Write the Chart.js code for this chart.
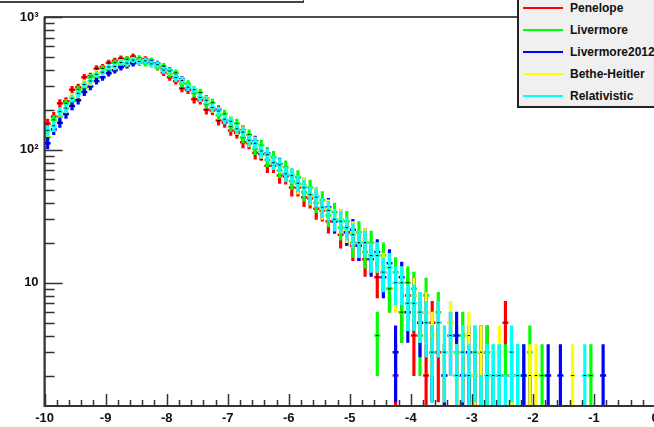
<!DOCTYPE html>
<html>
<head>
<meta charset="utf-8">
<script src="https://cdn.jsdelivr.net/npm/chart.js@4.4.0/dist/chart.umd.min.js"></script>
<style>
  html, body { margin: 0; padding: 0; background: #fff; overflow: hidden; width: 654px; height: 427px; }
  #wrap { position: absolute; left: 0; top: 0; width: 664px; height: 427px; }
  #titlebox { position: absolute; left: -4px; top: -20px; width: 306px; height: 20px; border: 1px solid #444; border-bottom-width: 2px; background: #fff; }
  #legend { position: absolute; left: 517px; top: -2px; width: 150px; height: 107px; background: #f0f0f0;
            border: 1px solid #000; border-left: 2px solid #222; border-bottom: 2px solid #222;
            font: bold 12px "Liberation Sans", Arial, sans-serif; color: #111; }
  .entry { position: absolute; left: 4px; height: 14px; width: 150px; }
  .entry i { position: absolute; left: 0; top: 6px; width: 40px; height: 2px; }
  .entry span { position: absolute; left: 47px; top: 0; white-space: nowrap; line-height: 14px; }
</style>
</head>
<body>
<div id="wrap"><canvas id="hist" width="664" height="427"></canvas></div>
<div id="titlebox"></div>
<div id="legend"></div>
<script>
// bin centres (log10 scale, bin width 0.1)
const binCenters = [
  -9.95, -9.85, -9.75, -9.65, -9.55, -9.45, -9.35, -9.25, -9.15, -9.05,
  -8.95, -8.85, -8.75, -8.65, -8.55, -8.45, -8.35, -8.25, -8.15, -8.05,
  -7.95, -7.85, -7.75, -7.65, -7.55, -7.45, -7.35, -7.25, -7.15, -7.05,
  -6.95, -6.85, -6.75, -6.65, -6.55, -6.45, -6.35, -6.25, -6.15, -6.05,
  -5.95, -5.85, -5.75, -5.65, -5.55, -5.45, -5.35, -5.25, -5.15, -5.05,
  -4.95, -4.85, -4.75, -4.65, -4.55, -4.45, -4.35, -4.25, -4.15, -4.05,
  -3.95, -3.85, -3.75, -3.65, -3.55, -3.45, -3.35, -3.25, -3.15, -3.05,
  -2.95, -2.85, -2.75, -2.65, -2.55, -2.45, -2.35, -2.25, -2.15, -2.05,
  -1.95, -1.85, -1.75, -1.65, -1.55, -1.45, -1.35, -1.25, -1.15, -1.05, -0.95, -0.85
];

const penelope = [
  158, 178, 224, 232, 284, 296, 352, 360, 410, 420,
  452, 468, 488, 482, 505, 478, 482, 440, 418, 382,
  352, 330, 290, 282, 240, 236, 200, 198, 166, 160,
  140, 134, 114, 112, 95, 93, 76, 76, 64, 63,
  52, 52, 44, 43, 36, 35, 29, 29, 23, 24,
  19, 19, 15, 16, 11, 12, 9, 2, 6, 8,
  4, 6, 2, 5, 3, 1, 4, 2, 3, 1,
  2, 0, 3, 1, 0, 5, 2, 0, 1, 0,
  0, 0, 0, 0, 0, 0, 0, 0, 0, 0, 0, 0
];
const livermore = [
  124, 168, 178, 224, 232, 284, 292, 352, 350, 410,
  398, 452, 432, 480, 456, 490, 448, 472, 420, 428,
  372, 380, 316, 314, 268, 270, 220, 226, 182, 186,
  150, 158, 124, 130, 102, 108, 84, 88, 70, 74,
  58, 62, 48, 52, 40, 42, 32, 34, 26, 29,
  20, 24, 17, 20, 4, 16, 9, 12, 6, 10,
  9, 4, 8, 3, 6, 2, 5, 3, 4, 1,
  3, 1, 3, 2, 0, 2, 1, 2, 2, 3,
  0, 2, 0, 0, 0, 0, 0, 0, 0, 2, 0, 0
];
const livermore2012 = [
  112, 142, 160, 186, 214, 236, 272, 300, 330, 352,
  378, 398, 418, 432, 448, 456, 470, 448, 444, 402,
  396, 350, 338, 296, 284, 246, 242, 204, 200, 168,
  166, 140, 140, 116, 116, 94, 94, 80, 78, 66,
  64, 55, 54, 45, 45, 36, 37, 29, 30, 24,
  25, 19, 21, 15, 17, 11, 14, 3, 11, 6,
  8, 5, 6, 3, 5, 2, 4, 4, 2, 3,
  2, 3, 1, 1, 2, 0, 2, 0, 2, 1,
  0, 0, 2, 0, 2, 0, 0, 0, 0, 0, 0, 2
];
const betheHeitler = [
  138, 150, 192, 204, 250, 262, 318, 324, 378, 382,
  420, 420, 458, 446, 478, 462, 470, 440, 436, 398,
  390, 346, 334, 298, 286, 246, 240, 206, 196, 170,
  166, 142, 138, 116, 114, 96, 92, 80, 76, 66,
  64, 54, 54, 45, 45, 36, 36, 30, 30, 25,
  24, 20, 21, 16, 16, 13, 13, 9, 10, 7,
  8, 6, 6, 4, 5, 3, 5, 2, 3, 4,
  2, 3, 1, 2, 3, 1, 2, 0, 0, 2,
  2, 0, 0, 0, 0, 0, 2, 0, 0, 0, 0, 0
];
const relativistic = [
  140, 152, 194, 206, 244, 266, 310, 330, 370, 384,
  420, 424, 454, 450, 474, 462, 468, 444, 438, 398,
  392, 350, 332, 296, 284, 248, 236, 208, 196, 170,
  164, 144, 136, 118, 112, 98, 92, 80, 77, 66,
  64, 56, 52, 46, 44, 37, 35, 30, 29, 26,
  23, 20, 20, 16, 16, 12, 13, 10, 10, 7,
  7, 6, 5, 3, 5, 3, 4, 2, 3, 2,
  3, 1, 2, 2, 2, 1, 3, 2, 0, 0,
  0, 0, 0, 0, 0, 0, 0, 0, 2, 0, 0, 0
];

const seriesNames = ['Penelope', 'Livermore', 'Livermore2012', 'Bethe-Heitler', 'Relativistic'];
const seriesColors = ['#ff0000', '#00ff00', '#0000ff', '#ffff00', '#00ffff'];
const seriesCounts = [penelope, livermore, livermore2012, betheHeitler, relativistic];

const yTickLabels = { 10: '10', 100: '10\u00b2', 1000: '10\u00b3' };

function isInt(v) { return Math.abs(v - Math.round(v)) < 1e-6; }

// build the datasets: error bar (floating bar), bin-width segment, marker
const datasets = [];
seriesCounts.forEach(function(counts, k) {
  const pts = [];
  binCenters.forEach(function(x, i) {
    if (counts[i] > 0) pts.push({ x: x, n: counts[i] });
  });
  const base = (seriesCounts.length - 1 - k) * 3;
  datasets.push({
    type: 'bar',
    label: seriesNames[k],
    data: pts.map(p => ({ x: p.x, y: [Math.max(p.n - Math.sqrt(p.n), 0.1), p.n + Math.sqrt(p.n)] })),
    backgroundColor: seriesColors[k],
    barThickness: 2.5,
    grouped: false,
    order: base + 2
  });
  datasets.push({
    type: 'line',
    showLine: false,
    data: pts.map(p => ({ x: p.x, y: p.n })),
    pointStyle: 'line',
    pointRadius: 3,
    pointBorderWidth: 2.5,
    pointBorderColor: seriesColors[k],
    order: base + 1
  });
  datasets.push({
    type: 'line',
    showLine: false,
    data: pts.map(p => ({ x: p.x, y: p.n })),
    pointStyle: 'line',
    pointRadius: 1.2,
    pointBorderWidth: 1,
    pointBorderColor: '#000',
    order: base
  });
});

// ROOT-like frame with inward ticks
const rootFrame = {
  id: 'rootFrame',
  afterDraw(chart) {
    const ctx = chart.ctx, a = chart.chartArea, x = chart.scales.x, y = chart.scales.y;
    ctx.save();
    ctx.strokeStyle = '#111';
    ctx.lineWidth = 1.5;
    ctx.strokeRect(a.left, a.top, a.right - a.left, a.bottom - a.top);
    ctx.strokeStyle = '#333';
    ctx.lineWidth = 2;
    ctx.beginPath();
    ctx.moveTo(a.left, a.top); ctx.lineTo(a.left, a.bottom); ctx.lineTo(a.right, a.bottom);
    ctx.stroke();
    ctx.lineWidth = 1.5;
    ctx.beginPath();
    x.ticks.forEach(function(t) {
      const px = Math.round(x.getPixelForValue(t.value)) + 0.5;
      const len = isInt(t.value) ? 12 : 6;
      ctx.moveTo(px, a.bottom); ctx.lineTo(px, a.bottom - len);
    });
    y.ticks.forEach(function(t) {
      const v = t.value;
      const dec = Math.pow(10, Math.floor(Math.log10(v) + 1e-9));
      const m = v / dec;
      if (!isInt(m)) return;
      const py = Math.round(y.getPixelForValue(v)) + 0.5;
      const len = Math.round(m) === 1 ? 18 : 10;
      ctx.moveTo(a.left, py); ctx.lineTo(a.left + len, py);
    });
    ctx.stroke();
    ctx.restore();
  }
};

const tickFont = { family: 'Liberation Sans', weight: 'bold', size: 13 };

new Chart(document.getElementById('hist').getContext('2d'), {
  type: 'bar',
  data: { datasets: datasets },
  options: {
    responsive: false,
    animation: false,
    events: [],
    layout: { padding: { left: 0, top: 17, right: 9, bottom: 0 } },
    plugins: { legend: { display: false }, tooltip: { enabled: false } },
    scales: {
      x: {
        type: 'linear', min: -10, max: 0, offset: false,
        grid: { display: false, drawTicks: false },
        border: { display: false },
        ticks: {
          stepSize: 0.2, autoSkip: false, maxRotation: 0, padding: 5,
          color: '#111', font: tickFont,
          callback: v => isInt(v) ? String(Math.round(v)) : ''
        },
        afterFit(s) { s.height = 21; }
      },
      y: {
        type: 'logarithmic', min: 1.18, max: 1000,
        grid: { display: false, drawTicks: false },
        border: { display: false },
        ticks: {
          autoSkip: false, padding: 6, color: '#111', font: tickFont,
          callback: v => yTickLabels[v] || ''
        },
        afterFit(s) { s.width = 44.6; }
      }
    }
  },
  plugins: [rootFrame]
});

// legend (ROOT TLegend look)
const legend = document.getElementById('legend');
const entryTops = [2, 24, 46, 68, 90];
seriesNames.forEach(function(name, k) {
  const e = document.createElement('div');
  e.className = 'entry';
  e.style.top = entryTops[k] + 'px';
  const sw = document.createElement('i');
  sw.style.background = seriesColors[k];
  const tx = document.createElement('span');
  tx.textContent = name;
  e.appendChild(sw); e.appendChild(tx);
  legend.appendChild(e);
});
</script>
</body>
</html>
